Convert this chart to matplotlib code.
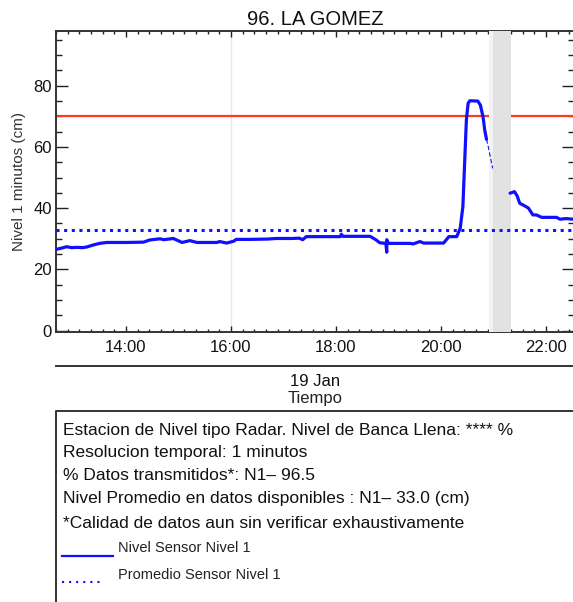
import matplotlib
matplotlib.use("Agg")
import matplotlib.pyplot as plt
from matplotlib.lines import Line2D
import numpy as np

plt.rcParams['font.family'] = ['Liberation Sans', 'DejaVu Sans']

# ---------------- data ----------------
title = "96. LA GOMEZ"
ylabel = "Nivel 1 minutos (cm)"
date_label = "19 Jan"
xlabel = "Tiempo"
x_tick_labels = ["14:00", "16:00", "18:00", "20:00", "22:00"]
y_ticks = [0, 20, 40, 60, 80]

times_main = ["12:41", "12:47", "12:52", "12:58", "13:04", "13:10", "13:15", "13:23",
              "13:30", "13:38", "14:01", "14:20", "14:27", "14:39", "14:43", "14:46",
              "14:54", "15:04", "15:13", "15:21", "15:44", "15:47", "15:55", "16:03",
              "16:06", "16:22", "16:41", "16:52", "17:10", "17:18", "17:22", "17:26",
              "18:05", "18:06", "18:08", "18:39", "18:46", "18:50", "18:57", "18:58",
              "18:58", "19:00", "19:25", "19:28", "19:30", "19:36", "19:40", "20:03",
              "20:09", "20:18", "20:22", "20:25", "20:27", "20:29", "20:31", "20:33",
              "20:42", "20:45", "20:48", "20:50", "20:52"]
level_main = [26.6, 27.0, 27.4, 27.1, 27.2, 27.1, 27.3, 28.0,
              28.5, 28.8, 28.8, 28.9, 29.6, 30.0, 29.7, 29.8,
              30.1, 28.8, 29.4, 28.8, 28.8, 29.1, 28.6, 29.2,
              29.8, 29.8, 29.9, 30.1, 30.1, 30.2, 29.7, 30.7,
              30.7, 31.5, 30.8, 30.8, 29.6, 28.7, 28.5, 25.6,
              29.7, 28.5, 28.5, 28.3, 28.5, 29.1, 28.6, 28.6,
              30.7, 30.7, 33.5, 40.5, 54.7, 68.8, 74.3, 75.1,
              75.0, 73.7, 69.9, 65.5, 62.5]

times_sparse = ["20:52", "20:54", "20:59"]
level_sparse = [62.5, 60.1, 53.0]

times_after = ["21:19", "21:24", "21:27", "21:30", "21:36", "21:40", "21:45", "21:49",
               "21:55", "22:12", "22:16", "22:23", "22:31"]
level_after = [44.9, 45.4, 44.0, 41.6, 40.7, 40.0, 37.8, 37.8,
               37.0, 37.0, 36.4, 36.6, 36.4]

bankfull_level = 70.0
mean_level = 33.0
no_data_light = ("20:55", "21:00")
no_data_band = ("21:00", "21:20")
marker_line_time = "16:00"
x_range = ("12:40", "22:32")

info_lines = [
    "Estacion de Nivel tipo Radar. Nivel de Banca Llena: **** %",
    "Resolucion temporal: 1 minutos",
    "% Datos transmitidos*: N1\u2013 96.5",
    "Nivel Promedio en datos disponibles : N1\u2013 33.0 (cm)",
    "*Calidad de datos aun sin verificar exhaustivamente",
]
legend_labels = ["Nivel Sensor Nivel 1", "Promedio Sensor Nivel 1"]


def h(t):
    hh, mm = t.split(":")
    return int(hh) + int(mm) / 60.0


# ---------------- figure ----------------
W, H = 573, 602
fig = plt.figure(figsize=(W / 100, H / 100), dpi=100)


def fy(py):
    return 1 - py / H


ax = fig.add_axes([56 / W, fy(331.5), 518 / W, (331.5 - 31) / H])

x0, x1 = h(x_range[0]), h(x_range[1])
ax.set_xlim(x0, x1)
ax.set_ylim(-0.3, 97.9)

blue = "#1010ff"
ax.axvline(h(marker_line_time), color="#e6e6e6", lw=0.9, zorder=1)
ax.axhline(bankfull_level, color="#ff3b22", lw=1.6, zorder=2)
ax.axvspan(h(no_data_light[0]), h(no_data_light[1]), color="#f3f3f3", lw=0, zorder=3)
ax.axvspan(h(no_data_band[0]), h(no_data_band[1]), color="#e2e2e2", lw=0, zorder=3)
ax.axhline(mean_level, color=blue, lw=2.2, linestyle=(0, (1, 1.5)), zorder=4)

ax.plot([h(t) for t in times_main], level_main, color=blue, lw=2.3,
        solid_joinstyle="round", solid_capstyle="round", zorder=5)
ax.plot([h(t) for t in times_sparse], level_sparse, color=blue, lw=0.8,
        linestyle=(0, (4, 2)), zorder=5)
ax.plot([h(t) for t in times_after], level_after, color=blue, lw=2.3,
        solid_joinstyle="round", solid_capstyle="round", zorder=5)

# ticks
ax.set_xticks([h(t) for t in x_tick_labels])
ax.set_xticklabels(x_tick_labels)
ax.set_xticks(np.arange(x0, x1, 800 / 3600.0), minor=True)
ax.set_yticks(y_ticks)
ax.set_yticks(np.arange(0, 97, 5), minor=True)
ax.tick_params(axis="x", which="major", direction="in", length=4.5, width=1.0,
               top=True, bottom=True, labelsize=12, pad=6, colors="#222222")
ax.tick_params(axis="x", which="minor", direction="in", length=2.2, width=1.0,
               top=True, bottom=True, colors="#222222")
ax.tick_params(axis="y", which="major", direction="in", length=8.8, width=1.0,
               left=True, right=True, labelsize=12, pad=3, colors="#222222")
ax.tick_params(axis="y", which="minor", direction="in", length=4.0, width=1.0,
               left=True, right=True, colors="#222222")
for lab in ax.get_xticklabels() + ax.get_yticklabels():
    lab.set_color("#111111")
for s in ax.spines.values():
    s.set_linewidth(1.4)
    s.set_color("#333333")

ax.set_title(title, fontsize=14.5, pad=4, color="#111111")
ax.set_ylabel(ylabel, fontsize=11, color="#333333", labelpad=5)

# separator line and date / axis label
fig.add_artist(Line2D([56 / W, 1.0], [fy(366), fy(366)], color="#333333", lw=1.4))
fig.text(315 / W, fy(382), date_label, ha="center", va="center", fontsize=12,
         color="#111111")
fig.text(315 / W, fy(398), xlabel, ha="center", va="center", fontsize=12,
         color="#222222")

# info box
fig.add_artist(Line2D([56 / W, 56 / W, 1.01], [-0.01, fy(411), fy(411)],
                      color="#333333", lw=1.4))
line_y = [431, 453, 476, 499, 523]
for txt, py in zip(info_lines, line_y):
    fig.text(63 / W, fy(py), txt, ha="left", va="center", fontsize=12.5,
             color="#111111")

fig.add_artist(Line2D([62 / W, 113 / W], [fy(556), fy(556)], color=blue, lw=1.6))
fig.text(118 / W, fy(548), legend_labels[0], ha="left", va="center", fontsize=10.5,
         color="#222222")
fig.add_artist(Line2D([62 / W, 104 / W], [fy(582), fy(582)], color=blue, lw=1.5,
                      linestyle=(0, (1, 2.4))))
fig.text(118 / W, fy(575), legend_labels[1], ha="left", va="center", fontsize=10.5,
         color="#222222")

fig.savefig("out.png", dpi=100)
